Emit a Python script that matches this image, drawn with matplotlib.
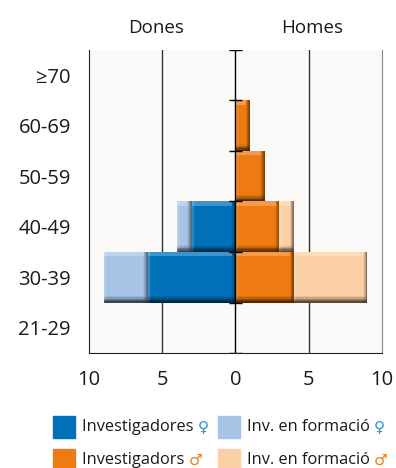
import numpy as np
import matplotlib.pyplot as plt
from matplotlib.patches import Rectangle
from matplotlib.colors import to_rgb

plt.rcParams['font.family'] = ['Open Sans', 'DejaVu Sans']

ages = ['≥70', '60-69', '50-59', '40-49', '30-39', '21-29']
inv_dones = [0, 0, 0, 3, 6, 0]
form_dones = [0, 0, 0, 1, 3, 0]
inv_homes = [0, 1, 2, 3, 4, 0]
form_homes = [0, 0, 0, 1, 5, 0]

c_inv_d = '#0070b8'
c_form_d = '#a7c3e6'
c_inv_h = '#ee7a12'
c_form_h = '#fbd0a6'


def shade(c, f):
    r, g, b = to_rgb(c)
    return (r * f, g * f, b * f)


def bar3d(ax, y, left, width, color):
    # flat bar with a darker right/bottom rim to fake the bevel
    if width == 0:
        return
    x0 = min(left, left + width)
    w = abs(width)
    h = 1.0
    ax.barh(y, w, left=x0, height=h, color=color, zorder=3)
    steps = 5
    for i in range(steps):
        a = 0.12 + 0.12 * i
        dx = 0.3 * (1 - i / steps)
        ax.barh(y, dx, left=x0 + w - dx, height=h, color=shade(color, 0.35),
                alpha=a * 0.6, zorder=4, linewidth=0)
        dy = 0.13 * (1 - i / steps)
        ax.barh(y + h / 2 - dy / 2, w, left=x0, height=dy, color=shade(color, 0.2),
                alpha=a * 0.75, zorder=4, linewidth=0)
        lx = 0.22 * (1 - i / steps)
        ax.barh(y, lx, left=x0, height=h, color='white',
                alpha=0.06, zorder=4, linewidth=0)
    # light top edge
    ax.barh(y - h / 2 + 0.04, w - 0.25, left=x0, height=0.08, color='white',
            alpha=0.25, zorder=4, linewidth=0)


fig = plt.figure(figsize=(3.96, 4.68), dpi=100)
ax = fig.add_axes([0.2247, 0.2457, 0.7399, 0.6475])
ax.set_facecolor('#faf9f7')

ypos = np.arange(len(ages))
for i in ypos:
    bar3d(ax, i, 0, -inv_dones[i], c_inv_d)
    bar3d(ax, i, -inv_dones[i], -form_dones[i], c_form_d)
    bar3d(ax, i, 0, inv_homes[i], c_inv_h)
    bar3d(ax, i, inv_homes[i], form_homes[i], c_form_h)

ax.set_xlim(-10, 10)
ax.set_ylim(len(ages) - 0.5, -0.5)

for gx in [-5, 5]:
    ax.axvline(gx, color='#333333', lw=1.0, zorder=1)
ax.axvline(0, color='black', lw=1.0, zorder=5)
bounds = np.arange(len(ages) + 1) - 0.5
ax.hlines(bounds, -0.45, 0.45, color='black', lw=1.0, zorder=5)

ax.set_yticks(ypos)
ax.set_yticklabels(ages, fontsize=14.5, color='#1a1a1a')
ax.set_xticks([-10, -5, 0, 5, 10])
ax.set_xticklabels(['10', '5', '0', '5', '10'], fontsize=14.5, color='#1a1a1a')
ax.tick_params(length=0)
ax.tick_params(axis='y', pad=13)
ax.tick_params(axis='x', pad=12)
ax.spines['top'].set_visible(False)
ax.spines['left'].set_color('#222222')
ax.spines['bottom'].set_color('#222222')
ax.spines['right'].set_color('#888888')

ax.text(-5.4, -0.75, 'Dones', ha='center', va='bottom', fontsize=13.5, color='#1a1a1a')
ax.text(5.2, -0.75, 'Homes', ha='center', va='bottom', fontsize=13.5, color='#1a1a1a')

# legend drawn by hand so the gender sign can carry its own colour
W, H = 396, 468
items = [
    (53, 427, c_inv_d, 'Investigadores ', '♀', '#2a8fd4'),
    (218, 427, c_form_d, 'Inv. en formació ', '♀', '#2a8fd4'),
    (53, 460, c_inv_h, 'Investigadors ', '♂', '#ee7a12'),
    (218, 460, c_form_h, 'Inv. en formació ', '♂', '#ee7a12'),
]
fig.canvas.draw()
r = fig.canvas.get_renderer()
for x, y, col, lab, sym, scol in items:
    fig.patches.append(Rectangle((x / W, 1 - (y + 11) / H), 22 / W, 22 / H,
                                 transform=fig.transFigure, color=col))
    t = fig.text((x + 29) / W, 1 - y / H, lab, fontsize=11.8, va='center', color='#1a1a1a')
    bb = t.get_window_extent(renderer=r)
    fig.text(bb.x1 / W, 1 - y / H, sym, fontsize=11, va='center', color=scol,
             family='DejaVu Sans')

fig.savefig('out.png', dpi=100)
